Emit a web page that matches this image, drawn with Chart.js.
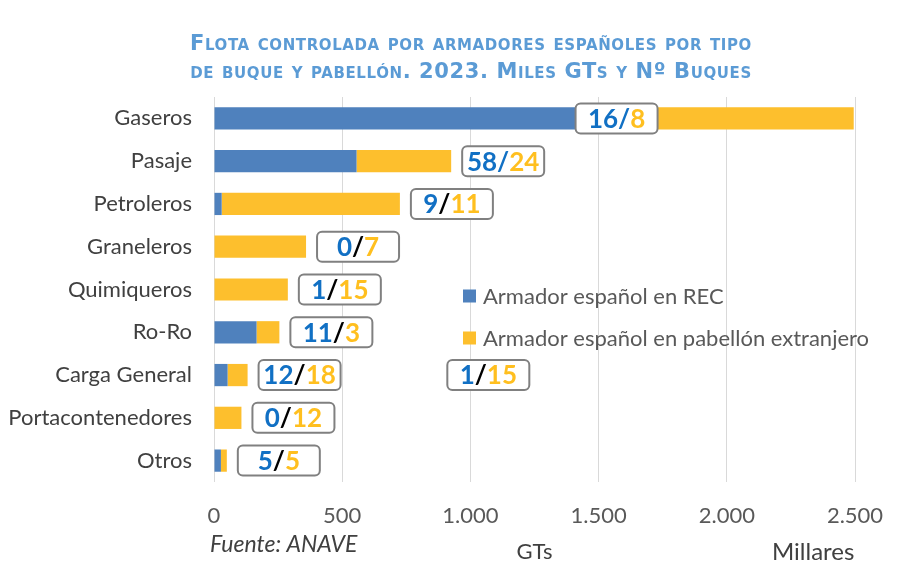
<!DOCTYPE html>
<html><head><meta charset="utf-8">
<script src="https://cdn.jsdelivr.net/npm/chart.js@4.4.0/dist/chart.umd.min.js"></script>
<style>
html,body{margin:0;padding:0;background:#fff;}
#wrap{position:relative;width:912px;height:586px;}
#title{position:absolute;left:0;top:29px;width:942px;text-align:center;color:#5b9bd5;font-family:"DejaVu Sans";font-weight:bold;font-variant:small-caps;font-size:21px;line-height:28px;letter-spacing:0.6px;}
canvas{position:absolute;left:0;top:0;}
</style></head>
<body>
<div id="wrap">
<canvas id="c" width="912" height="586"></canvas>
<div id="title">Flota controlada por armadores españoles por tipo<br>de buque y pabellón. 2023. Miles GTs y Nº Buques</div>
</div>
<script>
const categories = ["Gaseros","Pasaje","Petroleros","Graneleros","Quimiqueros","Ro-Ro","Carga General","Portacontenedores","Otros"];
const seriesNames = ["Armador español en REC","Armador español en pabellón extranjero"];
const recGT = [1730, 556, 30, 0, 0, 166, 53, 0, 27];
const extGT = [765, 369, 695, 359, 288, 89, 78, 107, 23];
const recShips = [16, 58, 9, 0, 1, 11, 12, 0, 5];
const extShips = [8, 24, 11, 7, 15, 3, 18, 12, 5];
const slashBlue = [true, true, false, false, false, false, false, false, false];
const strayLabel = {cat: 6, value: 910, rec: 1, ext: 15};
const xTicks = [0, 500, 1000, 1500, 2000, 2500];
const tickLabels = ["0","500","1.000","1.500","2.000","2.500"];

const BLUE = "#4f81bd", GOLD = "#fdbf2d";
const NUM_BLUE = "#1170c4", NUM_GOLD = "#ffbf1f";
const FONT = "Lato";

function drawBox(ctx, left, cy, a, b, slashIsBlue){
  const W = 82, H = 30;
  ctx.save();
  ctx.beginPath();
  ctx.roundRect(left, cy - H/2, W, H, 5);
  ctx.fillStyle = "#fff"; ctx.fill();
  ctx.lineWidth = 2; ctx.strokeStyle = "#808080"; ctx.stroke();
  ctx.font = "bold 26px " + FONT;
  ctx.textBaseline = "middle";
  ctx.textAlign = "left";
  const s1 = String(a), s2 = "/", s3 = String(b);
  const w1 = ctx.measureText(s1).width, w2 = ctx.measureText(s2).width, w3 = ctx.measureText(s3).width;
  let x = left + W/2 - (w1+w2+w3)/2;
  const ty = cy + 1;
  ctx.fillStyle = NUM_BLUE; ctx.fillText(s1, x, ty); x += w1;
  ctx.fillStyle = slashIsBlue ? NUM_BLUE : "#000"; ctx.fillText(s2, x, ty); x += w2;
  ctx.fillStyle = NUM_GOLD; ctx.fillText(s3, x, ty);
  ctx.restore();
}

const extras = {
  id: "extras",
  afterDatasetsDraw(chart){
    const ctx = chart.ctx, xs = chart.scales.x, ys = chart.scales.y;
    categories.forEach((c, i) => {
      const cy = ys.getPixelForValue(i);
      let left;
      if (i === 0) left = xs.getPixelForValue(recGT[i]) - 82;
      else left = xs.getPixelForValue(recGT[i] + extGT[i]) + 11;
      drawBox(ctx, left, cy, recShips[i], extShips[i], slashBlue[i]);
    });
    drawBox(ctx, xs.getPixelForValue(strayLabel.value), ys.getPixelForValue(strayLabel.cat), strayLabel.rec, strayLabel.ext, false);
    // legend
    ctx.save();
    const colors = [BLUE, GOLD];
    ctx.font = "22px " + FONT;
    ctx.textBaseline = "middle";
    seriesNames.forEach((n, k) => {
      const cy = 296 + k * 42;
      ctx.fillStyle = colors[k];
      ctx.fillRect(463, cy - 6.5, 13, 13);
      ctx.fillStyle = "#595959";
      ctx.fillText(n, 483, cy + 1);
    });
    // footer texts
    ctx.fillStyle = "#404040";
    ctx.font = "italic 23px " + FONT;
    ctx.textAlign = "left";
    ctx.fillText("Fuente: ANAVE", 210, 545);
    ctx.font = "24px " + FONT;
    ctx.fillText("Millares", 772, 552);
    ctx.restore();
  }
};

new Chart(document.getElementById("c"), {
  type: "bar",
  data: {
    labels: categories,
    datasets: [
      {label: seriesNames[0], data: recGT, backgroundColor: BLUE, categoryPercentage: 1, barPercentage: 0.52},
      {label: seriesNames[1], data: extGT, backgroundColor: GOLD, categoryPercentage: 1, barPercentage: 0.52}
    ]
  },
  options: {
    indexAxis: "y",
    responsive: false,
    animation: false,
    layout: {padding: {top: 97, right: 57, left: 0, bottom: 0}},
    plugins: {legend: {display: false}, title: {display: false}, tooltip: {enabled: false}},
    scales: {
      x: {
        stacked: true, min: 0, max: 2500,
        afterBuildTicks(s){ s.ticks = xTicks.map(v => ({value: v})); },
        afterFit(s){ s.height = 586 - 482; },
        grid: {color: "#d9d9d9", lineWidth: 1, drawTicks: false},
        border: {display: false},
        ticks: {padding: 21, color: "#595959", font: {family: FONT, size: 22},
          callback: (v, i) => tickLabels[i]},
        title: {display: true, text: "GTs", color: "#404040", font: {family: FONT, size: 22}, padding: {top: 0, bottom: 21}}
      },
      y: {
        stacked: true,
        afterFit(s){ s.width = 214; },
        grid: {display: false, drawTicks: false},
        border: {display: false},
        ticks: {padding: 22, color: "#404040", font: {family: FONT, size: 22}}
      }
    }
  },
  plugins: [extras]
});
</script>
</body></html>
